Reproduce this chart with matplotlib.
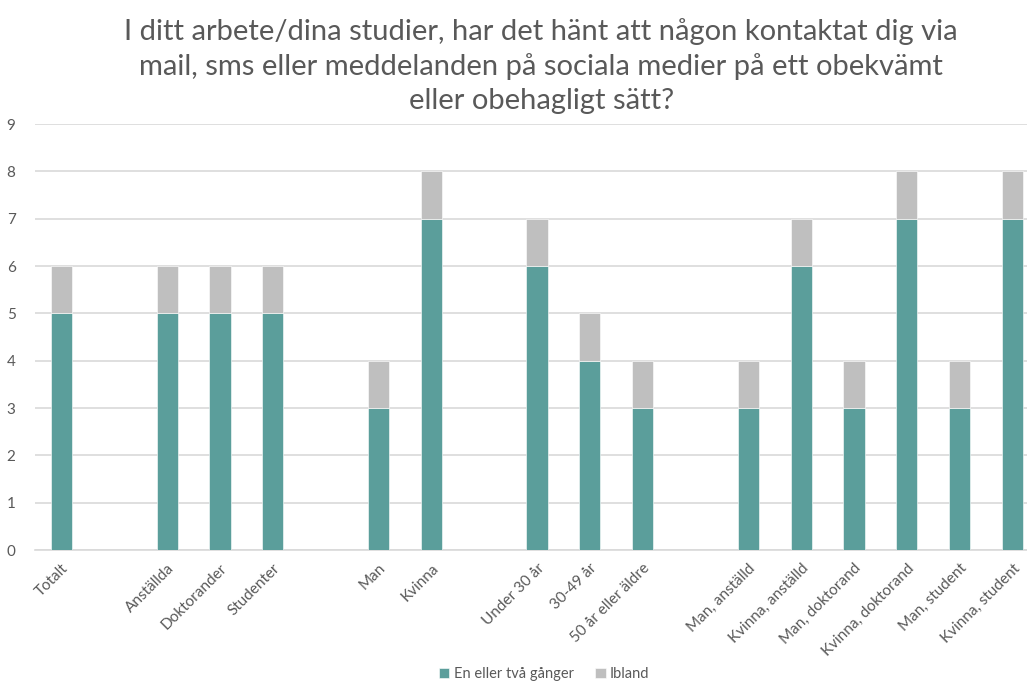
import matplotlib.pyplot as plt
import numpy as np

# groups of categories, a blank slot is left between groups
groups = [
    ["Totalt"],
    ["Anställda", "Doktorander", "Studenter"],
    ["Man", "Kvinna"],
    ["Under 30 år", "30-49 år", "50 år eller äldre"],
    ["Man, anställd", "Kvinna, anställd", "Man, doktorand",
     "Kvinna, doktorand", "Man, student", "Kvinna, student"],
]
en_eller_tva = [5, 5, 5, 5, 3, 7, 6, 4, 3, 3, 6, 3, 7, 3, 7]
ibland = [1, 1, 1, 1, 1, 1, 1, 1, 1, 1, 1, 1, 1, 1, 1]

title = ("I ditt arbete/dina studier, har det hänt att någon kontaktat dig via\n"
         "mail, sms eller meddelanden på sociala medier på ett obekvämt\n"
         "eller obehagligt sätt?")

teal = "#5B9E9B"
grey = "#BFBFBF"
text_col = "#595959"
grid_col = "#D9D9D9"

plt.rcParams['font.family'] = ['Lato', 'DejaVu Sans']

# slot positions with a gap between groups
labels, pos = [], []
slot = 0
for g in groups:
    for name in g:
        labels.append(name)
        pos.append(slot)
        slot += 1
    slot += 1
pos = np.array(pos)
n_slots = slot - 1

fig = plt.figure(figsize=(10.27, 6.81), dpi=100)
ax = fig.add_axes([35 / 1027, 131 / 681, 1004 / 1027, 426 / 681])

ax.bar(pos, en_eller_tva, width=0.4, color=teal, edgecolor="white", linewidth=0.4,
       label="En eller två gånger", zorder=3)
ax.bar(pos, ibland, width=0.4, bottom=en_eller_tva, color=grey, edgecolor="white",
       linewidth=0.4, label="Ibland", zorder=3)

ax.set_xlim(-0.5, n_slots - 0.5)
ax.set_ylim(0, 9)
ax.set_yticks(range(10))
ax.yaxis.grid(True, color=grid_col, linewidth=1.2, zorder=0)
ax.set_axisbelow(True)
for s in ["top", "right", "left"]:
    ax.spines[s].set_visible(False)
ax.spines["bottom"].set_color(grid_col)
ax.spines["bottom"].set_linewidth(1.2)
ax.tick_params(axis="both", length=0, colors=text_col, labelsize=11)
ax.tick_params(axis="y", pad=14)

ax.set_xticks(pos)
ax.set_xticklabels(labels, rotation=45, ha="right", rotation_mode="anchor",
                   fontsize=11, color=text_col)
ax.tick_params(axis="x", pad=8)

fig.text(0.527, 0.973, title, ha="center", va="top", fontsize=21,
         color=text_col, linespacing=1.36)

fig.legend(loc="lower center", bbox_to_anchor=(0.53, -0.02), ncol=2,
           frameon=False, fontsize=10.5, labelcolor=text_col,
           handlelength=0.7, handleheight=0.7, handletextpad=0.3,
           columnspacing=1.5)

fig.savefig("out.png", dpi=100)
